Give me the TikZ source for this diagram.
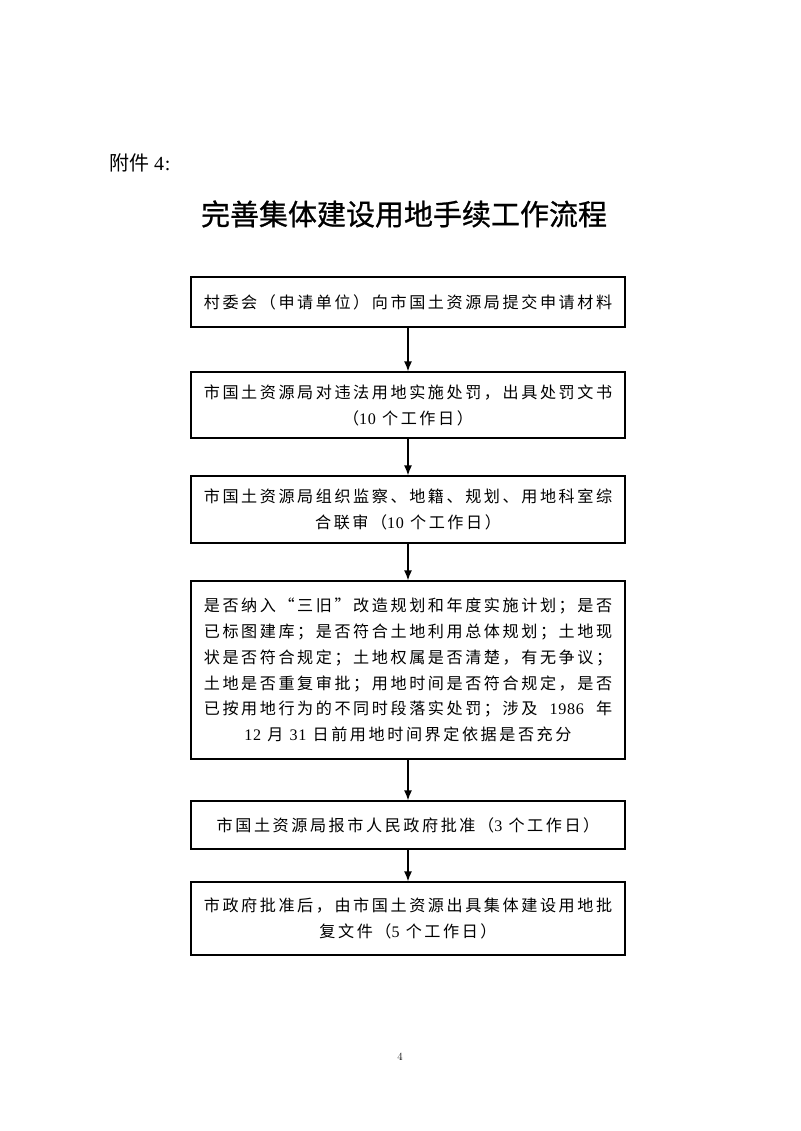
\documentclass[tikz,border=0pt]{standalone}
\usepackage{fontspec}
\usetikzlibrary{arrows.meta}
\newfontfamily\bodyfont[LetterSpace=16]{Noto Sans CJK SC}
\newfontfamily\titlefont[FakeBold=0.8]{Noto Sans CJK SC}
\newfontfamily\headfont{Noto Sans CJK SC}
\newfontfamily\numfont[LetterSpace=4]{Liberation Serif}
\newcommand\nm[1]{{\numfont #1}}
\newlength\fullw
\begin{document}
\settowidth{\fullw}{\bodyfont\fontsize{16.1}{26}\selectfont 是否纳入“三旧”改造规划和年度实施计划；是否}
\begin{tikzpicture}[x=1pt,y=-1pt,
  box/.style={draw, line width=1.3pt, minimum width=434pt, inner sep=0pt,
    align=center, font=\bodyfont\fontsize{16.1}{26}\selectfont},
  arr/.style={line width=1.3pt, -{Latex[length=10pt,width=8pt]}}]
\useasboundingbox (0,0) rectangle (800,1131);
\fill[white] (0,0) rectangle (800,1131);
\node[anchor=west, font=\headfont\fontsize{20}{24}\selectfont] (head) at (106,163) {附件 \nm{4:}};
\node[font=\titlefont\fontsize{29}{34}\selectfont] (title) at (404,214) {完善集体建设用地手续工作流程};
\node[box, minimum height=50pt] (b1) at (408,302) {村委会（申请单位）向市国土资源局提交申请材料};
\node[box, minimum height=66pt] (b2) at (408,405) {市国土资源局对违法用地实施处罚，出具处罚文书\\（\nm{10} 个工作日）};
\node[box, minimum height=67pt] (b3) at (408,509.5) {市国土资源局组织监察、地籍、规划、用地科室综\\合联审（\nm{10} 个工作日）};
\node[box, minimum height=178pt, font=\bodyfont\fontsize{16.1}{25.8}\selectfont] (b4) at (408,670) {是否纳入“三旧”改造规划和年度实施计划；是否\\已标图建库；是否符合土地利用总体规划；土地现\\状是否符合规定；土地权属是否清楚，有无争议；\\土地是否重复审批；用地时间是否符合规定，是否\\\makebox[\fullw][s]{已按用地行为的不同时段落实处罚；涉及 \nm{1986} 年}\\\nm{12} 月 \nm{31} 日前用地时间界定依据是否充分};
\node[box, minimum height=48pt] (b5) at (408,825) {市国土资源局报市人民政府批准（\nm{3} 个工作日）};
\node[box, minimum height=73pt] (b6) at (408,918.5) {市政府批准后，由市国土资源出具集体建设用地批\\复文件（\nm{5} 个工作日）};
\node[font=\fontsize{11}{13}\selectfont] (pg) at (400,1057) {4};
\draw[arr] (b1.south) -- (b2.north);
\draw[arr] (b2.south) -- (b3.north);
\draw[arr] (b3.south) -- (b4.north);
\draw[arr] (b4.south) -- (b5.north);
\draw[arr] (b5.south) -- (b6.north);
\end{tikzpicture}
\end{document}
